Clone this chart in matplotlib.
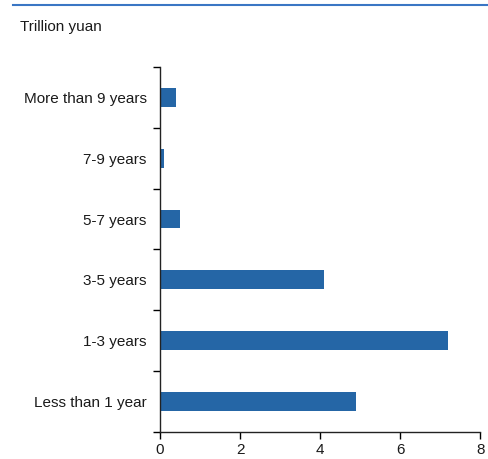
import matplotlib
matplotlib.use("Agg")
import matplotlib.pyplot as plt
import numpy as np

plt.rcParams['font.family'] = ['Liberation Sans', 'DejaVu Sans']

categories = ["Less than 1 year", "1-3 years", "3-5 years", "5-7 years",
              "7-9 years", "More than 9 years"]
values = [4.9, 7.2, 4.1, 0.5, 0.1, 0.4]
x_ticks = [0, 2, 4, 6, 8]

bar_color = "#2566a6"
fs = 11

fig = plt.figure(figsize=(4.88, 4.59), dpi=100)
ax = fig.add_axes([0.328, 0.059, 0.656, 0.795])

pos = np.arange(len(categories))
ax.barh(pos, values, height=0.31, color=bar_color)

ax.set_xlim(0, 8)
ax.set_ylim(-0.5, len(categories) - 0.5)
ax.set_xticks(x_ticks)
ax.set_xticklabels([str(t) for t in x_ticks], fontsize=fs)

# category labels centred, tick marks on the boundaries
ax.set_yticks(pos)
ax.set_yticklabels(categories, fontsize=fs, color='#1a1a1a')
ax.tick_params(axis='y', which='major', length=0, pad=9.7)
ax.set_yticks(np.arange(-0.5, len(categories)), minor=True)
ax.tick_params(axis='y', which='minor', length=5, width=1, direction='out')
ax.tick_params(axis='x', length=5, width=1, direction='out', pad=3, labelcolor='#1a1a1a')

for s in ('top', 'right'):
    ax.spines[s].set_visible(False)
for s in ('left', 'bottom'):
    ax.spines[s].set_color('#222222')
    ax.spines[s].set_linewidth(1)

fig.text(20 / 488, 1 - 27 / 459, "Trillion yuan", fontsize=fs, va='center', ha='left',
         color='#1a1a1a')
fig.add_artist(plt.Line2D([13 / 488, 1.0], [1 - 5 / 459, 1 - 5 / 459],
                          color='#3a76c4', linewidth=1.5))

fig.savefig("out.png", dpi=100)
